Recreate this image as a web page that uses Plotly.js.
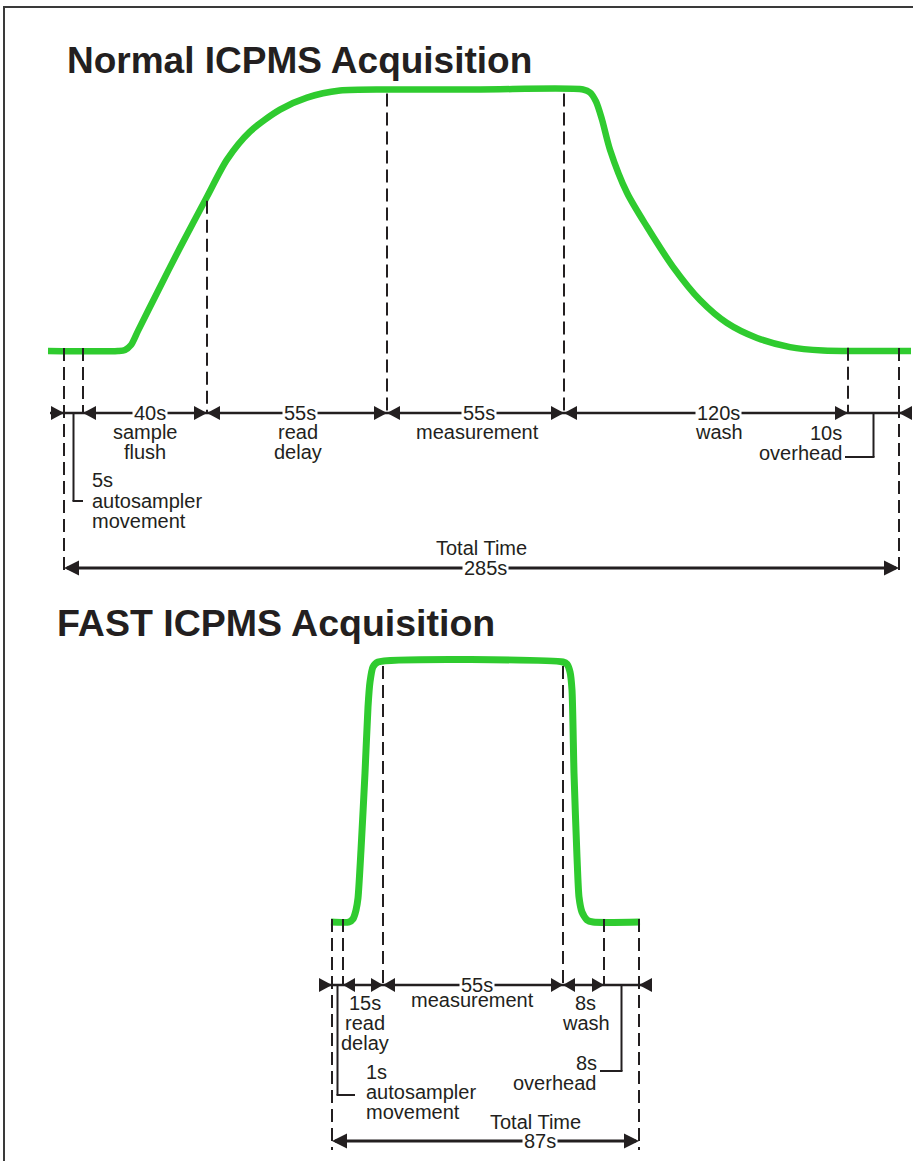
<!DOCTYPE html>
<html>
<head>
<meta charset="utf-8">
<script src="https://cdn.plot.ly/plotly-3.0.1.min.js"></script>
<style>
html,body{margin:0;padding:0;background:#ffffff;}
#chart{width:915px;height:1161px;}
</style>
</head>
<body>
<div id="chart"></div>
<script>
// ---------------- DATA ----------------
const normalTitle = 'Normal ICPMS Acquisition';
const fastTitle = 'FAST ICPMS Acquisition';

const normalPhases = ['autosampler movement', 'sample flush', 'read delay', 'measurement', 'wash', 'overhead'];
const normalDurations = [5, 40, 55, 55, 120, 10];           // seconds
const normalMarks = [64, 83, 207, 387, 564, 848, 899];      // schematic phase boundaries (diagram units)
const normalCurveX = [48, 118, 125, 131, 138, 157, 180, 207, 227, 250, 280, 307, 340, 390, 480, 583, 590, 596, 602, 610, 627, 647, 673, 700, 727, 757, 790, 823, 860, 911];
const normalCurveY = [0, 0, 0.004, 0.023, 0.077, 0.222, 0.395, 0.590, 0.732, 0.839, 0.923, 0.969, 0.996, 1, 1, 1, 0.989, 0.954, 0.885, 0.770, 0.605, 0.475, 0.322, 0.195, 0.107, 0.050, 0.015, 0.002, 0, 0];

const fastPhases = ['autosampler movement', 'read delay', 'measurement', 'wash', 'overhead'];
const fastDurations = [1, 15, 55, 8, 8];                    // seconds
const fastMarks = [332, 343, 383, 563, 604, 639];           // schematic phase boundaries (diagram units)
const fastCurveX = [331, 349, 353, 356, 358, 361, 365, 368, 370, 373, 378, 563, 567, 570, 572, 574, 577, 579, 582, 587, 593, 640];
const fastCurveY = [0, 0, 0.012, 0.046, 0.092, 0.277, 0.573, 0.827, 0.923, 0.981, 1, 1, 0.992, 0.962, 0.892, 0.573, 0.250, 0.096, 0.038, 0.008, 0, 0];

// ---------------- LAYOUT HELPERS ----------------
const W = 915, H = 1161, SPLIT = 600;
const INK = '#231f20';
const GREEN = '#2fcb2f';
const FONT = 'Liberation Sans, Arial, Helvetica, sans-serif';
const N = {base: 351, top: 89.5, ax: 'y'};
const F = {base: 922, top: 662, ax: 'y2'};
function yOf(P, p) { return (P.base - p) / (P.base - P.top); }
function pOf(P, v) { return P.base - v * (P.base - P.top); }
function curveAt(xs, ys, x) {
  for (let i = 0; i < xs.length - 1; i++) {
    if (x >= xs[i] && x <= xs[i + 1]) {
      const t = (x - xs[i]) / (xs[i + 1] - xs[i]);
      return ys[i] + t * (ys[i + 1] - ys[i]);
    }
  }
  return 0;
}
const shapes = [];
const onLine = [];
const texts = [];
function seg(P, x0, p0, x1, p1, w, dash) {
  shapes.push({type: 'line', xref: 'x', yref: P.ax, x0: x0, x1: x1, y0: yOf(P, p0), y1: yOf(P, p1),
    line: {color: INK, width: w, dash: dash || 'solid'}});
}
function head(P, x, p, dir, len, half) {
  const l = len || 13, h = half || 7;
  shapes.push({type: 'path', xref: 'x', yref: P.ax, xsizemode: 'pixel', ysizemode: 'pixel',
    xanchor: x, yanchor: yOf(P, p),
    path: 'M0,0 L' + (-dir * l) + ',' + h + ' L' + (-dir * l) + ',' + (-h) + ' Z',
    fillcolor: INK, line: {width: 0}});
}
function label(list, P, x, p, txt, align, bg) {
  const a = {xref: 'x', yref: P.ax, x: x, y: yOf(P, p), text: txt, showarrow: false,
    xanchor: align || 'center', yanchor: 'middle',
    font: {family: FONT, size: 20, color: INK}, borderpad: 1};
  if (bg) a.bgcolor = '#ffffff';
  list.push(a);
}
function dashes(P, marks, cx, cy, rowP, longP) {
  marks.forEach((m, i) => {
    const v = curveAt(cx, cy, m);
    const top = v < 0.05 ? pOf(P, v) - 3 : pOf(P, v) + 4;
    const bottom = (i === 0 || i === marks.length - 1) ? longP : rowP;
    seg(P, m, top, m, bottom, 2, '13px,6px');
  });
}

// ---------------- NORMAL PANEL ----------------
(function () {
  const P = N, m = normalMarks, rowP = 413, totP = 568;
  dashes(P, m, normalCurveX, normalCurveY, rowP, 576);
  seg(P, m[0] - 14, rowP, m[m.length - 1] + 13, rowP, 2.5);
  head(P, m[0], rowP, 1);
  head(P, m[m.length - 1], rowP, -1);
  const dx = [0, 5, 3, 3, 12, 0];
  const ndx = [0, 0, 1, 2, 13, 0];
  for (let i = 1; i < normalPhases.length - 1; i++) {
    head(P, m[i], rowP, -1);
    head(P, m[i + 1], rowP, 1);
    const mid = (m[i] + m[i + 1]) / 2;
    label(onLine, P, mid + dx[i], rowP, normalDurations[i] + 's', 'center', true);
    normalPhases[i].split(' ').forEach((w, k) => label(texts, P, mid + ndx[i], 432 + 20 * k, w, 'center'));
  }
  // autosampler callout
  const am = (m[0] + m[1]) / 2;
  seg(P, am, rowP, am, 501, 2);
  seg(P, am - 1, 501, m[1], 501, 2);
  label(texts, P, 90, 480, normalDurations[0] + 's', 'left');
  normalPhases[0].split(' ').forEach((w, k) => label(texts, P, 90, 501 + 20 * k, w, 'left'));
  // overhead callout
  const last = normalPhases.length - 1;
  const om = (m[last] + m[last + 1]) / 2;
  seg(P, om, rowP, om, 457, 2);
  seg(P, m[last] - 3, 457, om + 1, 457, 2);
  label(texts, P, 844, 433, normalDurations[last] + 's', 'right');
  label(texts, P, 844, 453, normalPhases[last], 'right');
  // total
  seg(P, m[0] + 3, totP, m[m.length - 1] - 3, totP, 3);
  head(P, m[0], totP, -1, 15, 7.5);
  head(P, m[m.length - 1], totP, 1, 15, 7.5);
  const total = normalDurations.reduce((a, b) => a + b, 0);
  label(onLine, P, 485, totP, total + 's', 'center', true);
  label(texts, P, 481, 548, 'Total Time', 'center');
})();

// ---------------- FAST PANEL ----------------
(function () {
  const P = F, m = fastMarks, rowP = 985, totP = 1141;
  dashes(P, m, fastCurveX, fastCurveY, rowP, 1150);
  seg(P, m[0] - 12, rowP, m[m.length - 1] + 12, rowP, 2.5);
  head(P, m[0], rowP, 1);
  head(P, m[m.length - 1], rowP, -1);
  for (let i = 1; i < fastPhases.length - 1; i++) {
    head(P, m[i], rowP, -1, 12, 7);
    head(P, m[i + 1], rowP, 1, 12, 7);
    const mid = (m[i] + m[i + 1]) / 2;
    const width = m[i + 1] - m[i];
    if (width > 100) {
      label(onLine, P, mid + 4, rowP, fastDurations[i] + 's', 'center', true);
      fastPhases[i].split(' ').forEach((w, k) => label(texts, P, mid - 1, 1000 + 20 * k, w, 'center'));
    } else {
      label(texts, P, mid + 2, 1003, fastDurations[i] + 's', 'center');
      fastPhases[i].split(' ').forEach((w, k) => label(texts, P, mid + 2, 1023 + 20 * k, w, 'center'));
    }
  }
  // autosampler callout
  const am = (m[0] + m[1]) / 2;
  seg(P, am, rowP, am, 1095, 2);
  seg(P, am - 1, 1095, 355, 1095, 2);
  label(texts, P, 364, 1072, fastDurations[0] + 's', 'left');
  fastPhases[0].split(' ').forEach((w, k) => label(texts, P, 364, 1092 + 20 * k, w, 'left'));
  // overhead callout
  const last = fastPhases.length - 1;
  const om = (m[last] + m[last + 1]) / 2;
  seg(P, om, rowP, om, 1071, 2);
  seg(P, 600, 1071, om + 1, 1071, 2);
  label(texts, P, 599, 1063, fastDurations[last] + 's', 'right');
  label(texts, P, 598, 1083, fastPhases[last], 'right');
  // total
  seg(P, m[0] + 3, totP, m[m.length - 1] - 3, totP, 3);
  head(P, m[0], totP, -1, 15, 7.5);
  head(P, m[m.length - 1], totP, 1, 15, 7.5);
  const total = fastDurations.reduce((a, b) => a + b, 0);
  label(onLine, P, 540, totP, total + 's', 'center', true);
  label(texts, P, 535, 1122, 'Total Time', 'center');
})();

// frame
shapes.push({type: 'line', xref: 'paper', yref: 'paper', x0: 3 / W, x1: 913 / W, y0: 1 - 7 / H, y1: 1 - 7 / H, line: {color: '#3a3a3a', width: 2}});
shapes.push({type: 'line', xref: 'paper', yref: 'paper', x0: 4 / W, x1: 4 / W, y0: 0, y1: 1 - 6 / H, line: {color: '#3a3a3a', width: 2}});

const titles = [
  {xref: 'paper', yref: 'paper', x: 65 / W, y: 1 - 60 / H, xanchor: 'left', yanchor: 'middle', showarrow: false,
    text: normalTitle, font: {family: FONT, size: 37, color: INK, weight: 'bold'}},
  {xref: 'paper', yref: 'paper', x: 55 / W, y: 1 - 623 / H, xanchor: 'left', yanchor: 'middle', showarrow: false,
    text: fastTitle, font: {family: FONT, size: 37.5, color: INK, weight: 'bold'}}
];

const traces = [
  {x: normalCurveX, y: normalCurveY, xaxis: 'x', yaxis: 'y', type: 'scatter', mode: 'lines',
    line: {color: GREEN, width: 6.5, shape: 'spline', smoothing: 0.8}, hoverinfo: 'skip'},
  {x: fastCurveX, y: fastCurveY, xaxis: 'x', yaxis: 'y2', type: 'scatter', mode: 'lines',
    line: {color: GREEN, width: 7, shape: 'spline', smoothing: 0.6}, hoverinfo: 'skip'}
];

const layout = {
  width: W, height: H,
  margin: {l: 0, r: 0, t: 0, b: 0, pad: 0},
  paper_bgcolor: '#ffffff', plot_bgcolor: '#ffffff',
  showlegend: false, hovermode: false,
  xaxis: {range: [0, W], domain: [0, 1], visible: false, fixedrange: true, anchor: 'y'},
  yaxis: {range: [yOf(N, SPLIT), yOf(N, 0)], domain: [1 - SPLIT / H, 1], visible: false, fixedrange: true, anchor: 'x'},
  yaxis2: {range: [yOf(F, H), yOf(F, SPLIT)], domain: [0, 1 - SPLIT / H], visible: false, fixedrange: true, anchor: 'x'},
  shapes: shapes,
  annotations: onLine.concat(texts, titles)
};

Plotly.newPlot('chart', traces, layout, {staticPlot: true, displayModeBar: false});
</script>
</body>
</html>
